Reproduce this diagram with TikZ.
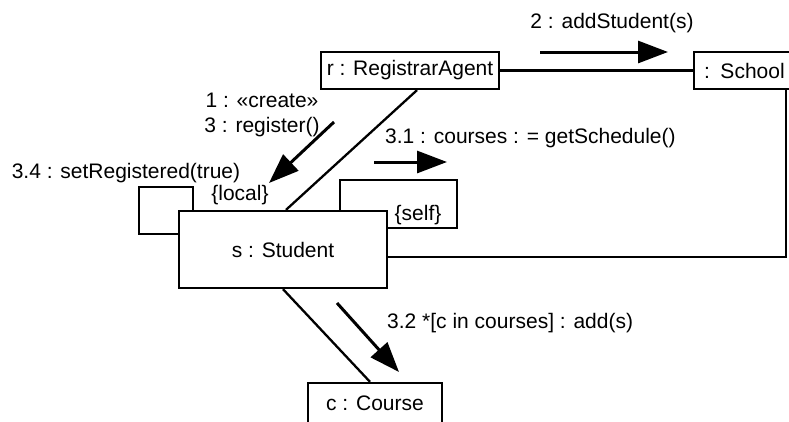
\documentclass[tikz,border=0pt]{standalone}
\usepackage{fontspec}
\setmainfont{Liberation Sans}
\usetikzlibrary{arrows.meta}
\begin{document}
\begin{tikzpicture}[x=1pt,y=-1pt,
  every node/.style={font=\fontsize{21}{25}\selectfont, inner sep=0pt},
  obj/.style={draw, line width=2.3pt, fill=white, inner sep=0pt},
  link/.style={line width=2.3pt},
  msg/.style={line width=3pt, -{Triangle[length=30pt,width=22pt]}},
  lbl/.style={inner sep=0pt}]
\useasboundingbox (0,0) rectangle (789,421);

% objects
\node[obj, minimum width=178pt, minimum height=37pt] (registrar) at (410,70.5) {r : RegistrarAgent};
\node[obj, anchor=west, minimum height=37pt, text width=100pt, align=left, inner xsep=10pt] (school) at (693,70.5) {: School};

% loops behind student
\draw[link] (179,234) -| (139,187) -| (193,211);
\draw[link] (340,211) |- (457,180) |- (387,228);

\node[obj, minimum width=208pt, minimum height=77pt] (student) at (283,249.5) {s : Student};
\node[obj, minimum width=134pt, minimum height=40pt] (course) at (375,403) {c : Course};

% links
\draw[link] (registrar.east) -- (school.west);
\draw[link] ([xshift=7pt]registrar.south) -- ([xshift=3pt]student.north);
\draw[link] ([xshift=93pt]school.south west) |- ([yshift=-7.5pt]student.east);
\draw[link] (student.south) -- ([xshift=-5pt]course.north);

% message arrows
\coordinate (m2a) at (540,52);  \coordinate (m2b) at (668,52);
\coordinate (m1a) at (334,122); \coordinate (m1b) at (269,183);
\coordinate (m31a) at (374,162); \coordinate (m31b) at (447,162);
\coordinate (m32a) at (337,303); \coordinate (m32b) at (399,372);
\draw[msg] (m2a) -- (m2b);
\draw[msg] (m1a) -- (m1b);
\draw[msg] (m31a) -- (m31b);
\draw[msg] (m32a) -- (m32b);

% labels
\node[lbl] (l2) at (612,23) {2 : addStudent(s)};
\node[lbl, align=center] (l1) at (262,114.5) {1 : «create»\\3 : register()};
\node[lbl] (l34) at (126,173) {3.4 : setRegistered(true)};
\node[lbl] (llocal) at (240,195) {\{local\}};
\node[lbl, anchor=west] (l31) at (385,138) {3.1 : courses : = getSchedule()};
\node[lbl] (lself) at (418,215) {\{self\}};
\node[lbl, anchor=west] (l32) at (387,323) {3.2 *[c in courses] : add(s)};
\end{tikzpicture}
\end{document}
